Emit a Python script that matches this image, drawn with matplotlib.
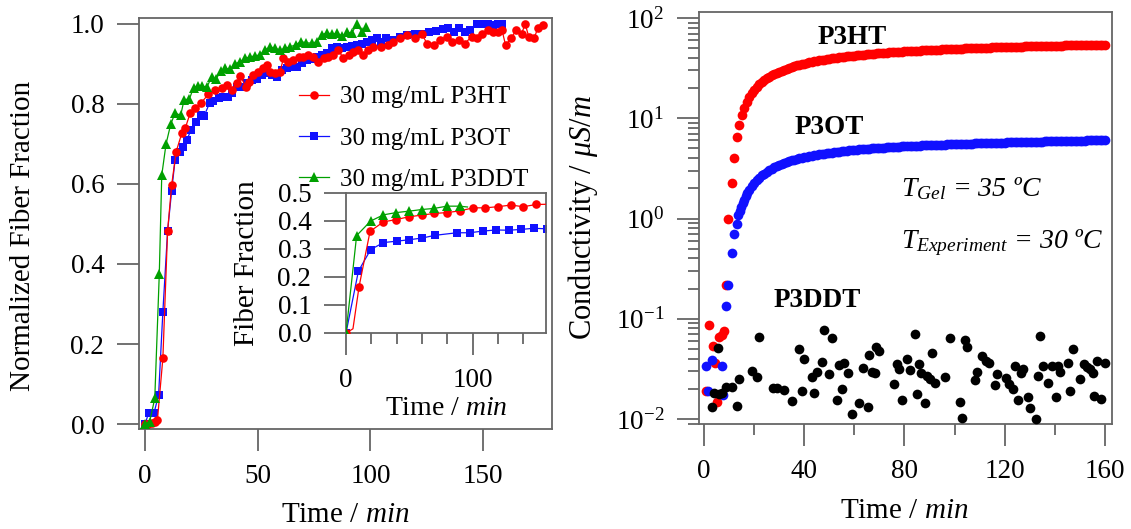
import matplotlib
matplotlib.use("Agg")
import matplotlib.pyplot as plt
from matplotlib.ticker import MultipleLocator, FixedLocator, LogLocator, NullFormatter

plt.rcParams.update({
    "font.family": ["Liberation Serif", "DejaVu Serif"],
    "mathtext.fontset": "custom",
    "mathtext.rm": "Liberation Serif",
    "mathtext.it": "Liberation Serif:italic",
    "mathtext.bf": "Liberation Serif:bold",
    "axes.unicode_minus": False,
})

# ---------------- normalized fiber fraction (left) ----------------
p3ht_t = [0, 1.5, 3, 4.3, 5.5, 7.9, 10.0, 11.8, 13.8, 16.3, 17.8, 20.0, 22.2, 24.7, 28.1,
          31.1, 34.0, 36.5, 38.5, 40.7, 42.2, 44.8, 45.9, 48.1, 50.3, 52.5, 54.0, 55.5,
          57.7, 59.9, 61.4, 63.6, 65.8, 68.1, 70.3, 72.5, 74.7, 76.9, 79.2, 81.4, 83.6,
          85.8, 88.0, 90.3, 92.2, 94.7, 96.9, 99.1, 101.3, 104.5, 107.7, 110.1, 113.3,
          116.4, 119.6, 122.8, 125.1, 128.3, 130.7, 133.8, 136.2, 139.4, 141.8, 144.9,
          147.3, 149.7, 152.1, 154.4, 156.8, 158.4, 160.0, 162.4, 164.7, 167.1, 168.7,
          170.3, 172.7, 174.2, 176.6]
p3ht_f = [0.0, 0.0, 0.002, 0.005, 0.011, 0.165, 0.483, 0.598, 0.681, 0.727, 0.739, 0.777,
          0.789, 0.802, 0.824, 0.835, 0.839, 0.848, 0.835, 0.852, 0.870, 0.843, 0.856,
          0.872, 0.881, 0.889, 0.898, 0.881, 0.878, 0.881, 0.914, 0.906, 0.910, 0.917,
          0.918, 0.923, 0.918, 0.906, 0.914, 0.917, 0.923, 0.935, 0.914, 0.923, 0.931,
          0.935, 0.923, 0.935, 0.943, 0.943, 0.947, 0.955, 0.964, 0.972, 0.964, 0.976,
          0.951, 0.947, 0.960, 0.968, 0.955, 0.960, 0.951, 0.968, 0.964, 0.976, 0.985,
          0.980, 0.980, 0.985, 0.947, 0.964, 0.985, 0.976, 1.000, 0.968, 0.964, 0.989,
          0.997]

p3ot_t = [0, 1.6, 4.0, 6.0, 7.9, 10.0, 11.8, 13.3, 15.3, 17.0, 18.5, 20.4, 22.6, 24.7,
          26.2, 28.6, 30.3, 32.6, 34.8, 37.0, 38.5, 40.7, 42.9, 45.1, 47.4, 49.6, 51.8,
          54.0, 56.2, 58.4, 60.7, 62.9, 65.1, 67.3, 69.5, 71.8, 74.0, 76.2, 78.4, 80.6,
          82.9, 85.1, 87.3, 89.5, 91.7, 94.0, 96.2, 98.4, 100.6, 102.8, 104.5, 106.9,
          110.1, 113.3, 116.4, 119.6, 122.8, 125.9, 129.1, 132.3, 134.6, 137.0, 139.4,
          141.8, 144.1, 147.3, 149.7, 152.1, 154.4, 156.8, 158.4]
p3ot_f = [0.0, 0.028, 0.028, 0.073, 0.281, 0.483, 0.583, 0.660, 0.681, 0.693, 0.710,
          0.735, 0.756, 0.772, 0.770, 0.802, 0.808, 0.814, 0.818, 0.818, 0.828, 0.842,
          0.842, 0.853, 0.860, 0.862, 0.873, 0.877, 0.873, 0.867, 0.885, 0.889, 0.893,
          0.893, 0.902, 0.910, 0.912, 0.917, 0.923, 0.927, 0.939, 0.942, 0.939, 0.943,
          0.945, 0.947, 0.949, 0.956, 0.960, 0.964, 0.955, 0.964, 0.961, 0.968, 0.972,
          0.976, 0.976, 0.981, 0.983, 0.987, 0.989, 0.981, 0.989, 0.981, 0.985, 1.000,
          1.000, 1.000, 0.997, 1.000, 1.000]

p3ddt_t = [0, 2.0, 4.3, 6.3, 7.4, 9.3, 11.4, 13.3, 15.8, 17.3, 19.7, 21.5, 23.4, 25.4,
           27.4, 29.6, 31.5, 33.6, 35.5, 37.7, 39.9, 42.2, 44.4, 46.6, 48.8, 51.0, 53.3,
           55.5, 57.7, 59.9, 62.1, 64.4, 66.9, 69.1, 71.5, 74.0, 76.5, 78.4, 80.6, 82.9,
           85.1, 87.6, 89.8, 91.7, 94.0, 96.2, 98.1]
p3ddt_f = [0.0, 0.005, 0.064, 0.374, 0.622, 0.700, 0.750, 0.777, 0.772, 0.810, 0.813,
           0.841, 0.845, 0.845, 0.842, 0.868, 0.862, 0.883, 0.889, 0.887, 0.900, 0.906,
           0.914, 0.918, 0.920, 0.923, 0.935, 0.943, 0.939, 0.935, 0.939, 0.943, 0.948,
           0.956, 0.953, 0.952, 0.956, 0.973, 0.978, 0.975, 0.977, 0.970, 0.979, 0.977,
           1.000, 0.980, 0.993]

# inset: absolute fiber fraction
in_p3ht_t = [0, 5.5, 10.3, 19.0, 29.6, 39.6, 49.6, 59.9, 69.7, 79.7, 89.7, 100.6, 110.0,
             119.8, 130.4, 139.9, 150.4, 161.0]
in_p3ht_f = [0.0, 0.015, 0.165, 0.363, 0.397, 0.405, 0.415, 0.421, 0.427, 0.430, 0.436,
             0.447, 0.447, 0.451, 0.457, 0.451, 0.459, 0.460]
in_p3ot_t = [0, 9.8, 19.5, 29.6, 40.1, 49.8, 59.9, 70.5, 87.6, 97.6, 108.2, 118.5, 128.5,
             138.6, 148.3, 158.9]
in_p3ot_f = [0.0, 0.221, 0.298, 0.323, 0.328, 0.333, 0.339, 0.349, 0.358, 0.358, 0.364,
             0.368, 0.367, 0.370, 0.374, 0.372]
in_p3ddt_t = [0, 8.4, 19.5, 29.6, 39.6, 49.6, 59.9, 69.7, 79.7, 89.7, 96.0]
in_p3ddt_f = [0.0, 0.348, 0.400, 0.422, 0.430, 0.435, 0.441, 0.445, 0.453, 0.453, 0.450]

# ---------------- conductivity (right) ----------------
# P3HT: scattered onset points, then one reading per minute from 15 to 160 min
cond_p3ht_t = [0.9, 2.0, 3.6, 4.4, 5.3, 6.0, 7.1, 8.0, 8.9, 9.7, 11.2, 11.9, 13.1,
               14.1] + list(range(15, 161))
cond_p3ht = [0.0192, 0.0867, 0.0534, 0.036, 0.0149, 0.066, 0.069, 0.0755, 0.217, 0.99,
             2.28, 4.06, 6.46, 8.6,
             10.9, 12.7, 14.6, 16.4, 17.9, 19.3, 20.6, 21.8, 22.9, 24.0,
             25.0, 25.9, 26.8, 27.6, 28.4, 29.1, 29.8, 30.5, 31.2, 31.8,
             32.4, 33.0, 33.6, 34.1, 34.6, 35.1, 35.6, 36.0, 36.5, 36.9,
             37.3, 37.7, 38.1, 38.5, 38.9, 39.2, 39.6, 39.9, 40.2, 40.5,
             40.8, 41.1, 41.4, 41.7, 41.9, 42.2, 42.5, 42.7, 43.0, 43.2,
             43.5, 43.7, 43.9, 44.1, 44.3, 44.5, 44.7, 44.9, 45.1, 45.3,
             45.5, 45.7, 45.9, 46.0, 46.2, 46.4, 46.5, 46.7, 46.9, 47.0,
             47.2, 47.3, 47.5, 47.6, 47.8, 47.9, 48.0, 48.2, 48.3, 48.4,
             48.6, 48.7, 48.8, 48.9, 49.1, 49.2, 49.3, 49.4, 49.6, 49.7,
             49.8, 49.9, 50.0, 50.1, 50.2, 50.3, 50.4, 50.5, 50.6, 50.7,
             50.8, 50.9, 51.0, 51.1, 51.2, 51.3, 51.4, 51.5, 51.6, 51.6,
             51.7, 51.8, 51.9, 52.0, 52.0, 52.1, 52.2, 52.3, 52.4, 52.5,
             52.5, 52.6, 52.7, 52.8, 52.8, 52.9, 53.0, 53.1, 53.1, 53.2,
             53.3, 53.4, 53.4, 53.5, 53.6, 53.6, 53.7, 53.8, 53.8, 53.9,
             54.0, 54.0, 54.1, 54.2, 54.2, 54.3]

# P3OT: scattered onset points, then one reading per minute from 18 to 160 min
cond_p3ot_t = [0.7, 1.7, 3.1, 7.3, 7.6, 8.9, 9.7, 11.1, 12.0, 13.1, 13.6, 14.2, 14.8,
               15.4, 16.0, 16.6, 17.2] + list(range(18, 161))
cond_p3ot = [0.034, 0.019, 0.0388, 0.034, 0.0175, 0.135, 0.217, 0.456, 0.695, 0.88,
             1.08, 1.18, 1.30, 1.42, 1.54, 1.66, 1.78,
             1.92, 2.10, 2.27, 2.42, 2.56, 2.69, 2.81, 2.93, 3.04, 3.14,
             3.24, 3.33, 3.42, 3.50, 3.58, 3.65, 3.72, 3.79, 3.85, 3.91,
             3.97, 4.03, 4.08, 4.13, 4.18, 4.23, 4.27, 4.32, 4.36, 4.40,
             4.44, 4.48, 4.51, 4.55, 4.58, 4.62, 4.65, 4.68, 4.71, 4.74,
             4.77, 4.80, 4.83, 4.85, 4.88, 4.90, 4.93, 4.95, 4.98, 5.00,
             5.02, 5.04, 5.06, 5.08, 5.10, 5.12, 5.14, 5.16, 5.18, 5.20,
             5.21, 5.23, 5.25, 5.26, 5.28, 5.30, 5.31, 5.33, 5.34, 5.36,
             5.37, 5.38, 5.40, 5.41, 5.42, 5.44, 5.45, 5.46, 5.47, 5.49,
             5.50, 5.51, 5.52, 5.53, 5.54, 5.56, 5.57, 5.58, 5.59, 5.60,
             5.61, 5.62, 5.63, 5.64, 5.65, 5.66, 5.67, 5.68, 5.69, 5.70,
             5.71, 5.72, 5.73, 5.74, 5.75, 5.76, 5.77, 5.77, 5.78, 5.79,
             5.80, 5.81, 5.82, 5.83, 5.84, 5.84, 5.85, 5.86, 5.87, 5.88,
             5.89, 5.89, 5.90, 5.91, 5.92, 5.92, 5.93, 5.94, 5.95, 5.95,
             5.96, 5.97, 5.98, 5.98, 5.99, 6.00, 6.01, 6.01, 6.02, 6.03,
             6.04, 6.04, 6.05]

cond_p3ddt_t = [3.1, 4.0, 5.7, 6.0, 7.3, 8.9, 11.1, 13.3, 14.0, 19.1, 21.3, 22.0, 27.6,
                29.3, 32.0, 35.1, 38.0, 39.1, 40.0, 43.1, 44.0, 45.1, 47.1, 48.0, 50.0,
                51.1, 52.9, 53.7, 55.1, 56.0, 57.3, 59.1, 62.0, 63.3, 65.3, 65.7, 67.1,
                68.4, 68.7, 70.0, 76.0, 76.9, 78.0, 79.1, 80.9, 82.0, 84.0, 85.1, 85.7,
                86.7, 88.0, 88.9, 90.3, 91.1, 92.0, 96.0, 98.0, 102.0, 103.1, 104.0, 105.1,
                108.0, 108.9, 110.9, 112.7, 113.7, 116.0, 116.9, 120.7, 121.7, 123.1, 124.0,
                125.3, 126.4, 127.3, 129.3, 130.0, 132.4, 133.1, 134.0, 135.1, 137.1, 138.7,
                140.3, 141.1, 142.0, 145.1, 146.0, 147.3, 150.0, 151.7, 152.7, 154.0, 155.1,
                155.6, 156.9, 158.3, 160.0]
cond_p3ddt = [0.0131, 0.0183, 0.0507, 0.0178, 0.018, 0.021, 0.0207, 0.0135, 0.0251,
              0.0304, 0.0264, 0.065, 0.0202, 0.0202, 0.0195, 0.0151, 0.0496, 0.0192,
              0.0394, 0.0261, 0.0183, 0.0297, 0.0373, 0.078, 0.0281, 0.0638, 0.0155,
              0.0346, 0.0198, 0.0359, 0.029, 0.0111, 0.0143, 0.032, 0.0133, 0.0434, 0.0297,
              0.029, 0.0519, 0.048, 0.0223, 0.0351, 0.0313, 0.0155, 0.0394, 0.0308, 0.070,
              0.0177, 0.0354, 0.029, 0.0143, 0.0269, 0.0249, 0.0459, 0.0227, 0.0261, 0.0647,
              0.0147, 0.0102, 0.0614, 0.0527, 0.0245, 0.0297, 0.0425, 0.0378, 0.0359, 0.0218,
              0.0281, 0.0255, 0.0223, 0.0198, 0.034, 0.0155, 0.0285, 0.0313, 0.0164, 0.0128,
              0.0100, 0.0269, 0.0673, 0.034, 0.0227, 0.034, 0.0164, 0.034, 0.0297, 0.0365,
              0.0192, 0.0496, 0.0249, 0.0351, 0.0327, 0.0313, 0.0285, 0.0169, 0.0382, 0.0159,
              0.0359]

RED, BLUE, GREEN = "#ff0000", "#1010ff", "#00a000"
SPINE = "#666666"
W, H = 1131, 529


def style_axes(ax):
    for s in ax.spines.values():
        s.set_color(SPINE)
        s.set_linewidth(1.3)
    ax.tick_params(which="both", direction="out", color=SPINE, width=1.3,
                   labelsize=19.5, pad=9)
    ax.tick_params(which="major", length=16)
    ax.tick_params(which="minor", length=8)


fig = plt.figure(figsize=(W / 100, H / 100), dpi=100)

# ---- left panel ----
ax1 = fig.add_axes([139 / W, 1 - 429 / H, 413 / W, 411 / H])
style_axes(ax1)
ax1.set_xlim(-2.7, 180.6)
ax1.set_ylim(-0.0125, 1.015)
ax1.xaxis.set_major_locator(FixedLocator([0, 50, 100, 150]))
ax1.yaxis.set_major_locator(FixedLocator([0.0, 0.2, 0.4, 0.6, 0.8, 1.0]))
ax1.yaxis.set_major_formatter(plt.FuncFormatter(lambda v, p: f"{v:.1f}"))

ax1.plot(p3ht_t, p3ht_f, color=RED, lw=0.9, marker="o", ms=6.2, mew=0,
         label="30 mg/mL P3HT", zorder=3)
ax1.plot(p3ot_t, p3ot_f, color=BLUE, lw=0.9, marker="s", ms=5.6, mew=0,
         label="30 mg/mL P3OT", zorder=2)
ax1.plot(p3ddt_t, p3ddt_f, color=GREEN, lw=0.9, marker="^", ms=6.6, mew=0,
         label="30 mg/mL P3DDT", zorder=4)

ax1.set_xlabel(r"Time / $\mathit{min}$", fontsize=21)
ax1.xaxis.set_label_coords(0.5, -0.178)
ax1.set_ylabel("Normalized Fiber Fraction", fontsize=21)
ax1.yaxis.set_label_coords(-0.25, 0.47)

ax1.legend(loc="upper left", bbox_to_anchor=(299 / W, 1 - 86 / H),
           bbox_transform=fig.transFigure, frameon=False, fontsize=18,
           handlelength=1.2, handletextpad=0.44, labelspacing=0.75,
           borderpad=0, borderaxespad=0)

# ---- inset ----
axi = fig.add_axes([346 / W, 1 - 333 / H, 200 / W, 140 / H])
style_axes(axi)
axi.set_xlim(0, 158)
axi.set_ylim(0, 0.5)
axi.xaxis.set_major_locator(FixedLocator([0, 100]))
axi.xaxis.set_minor_locator(MultipleLocator(20))
axi.yaxis.set_major_locator(MultipleLocator(0.1))
axi.yaxis.set_major_formatter(plt.FuncFormatter(lambda v, p: f"{v:.1f}"))
axi.plot(in_p3ht_t, in_p3ht_f, color=RED, lw=0.9, marker="o", ms=6.2, mew=0,
         markevery=[0] + list(range(2, 17)), zorder=3)
axi.plot(in_p3ot_t, in_p3ot_f, color=BLUE, lw=0.9, marker="s", ms=5.6, mew=0, zorder=2)
axi.plot(in_p3ddt_t, in_p3ddt_f, color=GREEN, lw=0.9, marker="^", ms=6.6, mew=0,
         markevery=list(range(10)), zorder=4)
axi.set_xlabel(r"Time / $\mathit{min}$", fontsize=20)
axi.xaxis.set_label_coords(0.5, -0.45)
axi.set_ylabel("Fiber Fraction", fontsize=21)
axi.yaxis.set_label_coords(-0.43, 0.5)

# ---- right panel ----
ax2 = fig.add_axes([699 / W, 1 - 424 / H, 413 / W, 412 / H])
style_axes(ax2)
ax2.set_yscale("log")
ax2.set_xlim(-2.0, 162.8)
ax2.set_ylim(10 ** -2.05, 10 ** 2.06)
ax2.xaxis.set_major_locator(FixedLocator([0, 40, 80, 120, 160]))
ax2.xaxis.set_minor_locator(FixedLocator([20, 60, 100, 140]))
ax2.yaxis.set_major_locator(LogLocator(base=10, numticks=10))
ax2.yaxis.set_minor_locator(LogLocator(base=10, subs=range(2, 10), numticks=20))
ax2.yaxis.set_minor_formatter(NullFormatter())

ax2.plot(cond_p3ht_t, cond_p3ht, "o", color=RED, ms=7, mew=0, zorder=2)
ax2.plot(cond_p3ot_t, cond_p3ot, "o", color=BLUE, ms=7, mew=0, zorder=3)
ax2.plot(cond_p3ddt_t, cond_p3ddt, "o", color="black", ms=7, mew=0, zorder=4)

ax2.text(59, 64, "P3HT", fontsize=19.5, fontweight="bold", ha="center", va="center")
ax2.text(50, 8.0, "P3OT", fontsize=19.5, fontweight="bold", ha="center", va="center")
ax2.text(45, 0.152, "P3DDT", fontsize=19.5, fontweight="bold", ha="center", va="center")
ax2.text(78.5, 1.68, r"$T_{Gel}$ = 35 ºC", fontsize=20, style="italic",
         ha="left", va="baseline")
ax2.text(78.5, 0.51, r"$T_{Experiment}$ = 30 ºC", fontsize=20, style="italic",
         ha="left", va="baseline")

ax2.set_xlabel(r"Time / $\mathit{min}$", fontsize=21)
ax2.xaxis.set_label_coords(0.497, -0.18)
ax2.set_ylabel(r"Conductivity / $\mu S/m$", fontsize=22)
ax2.yaxis.set_label_coords(-0.24, 0.5)

fig.savefig("out.png", dpi=100)
